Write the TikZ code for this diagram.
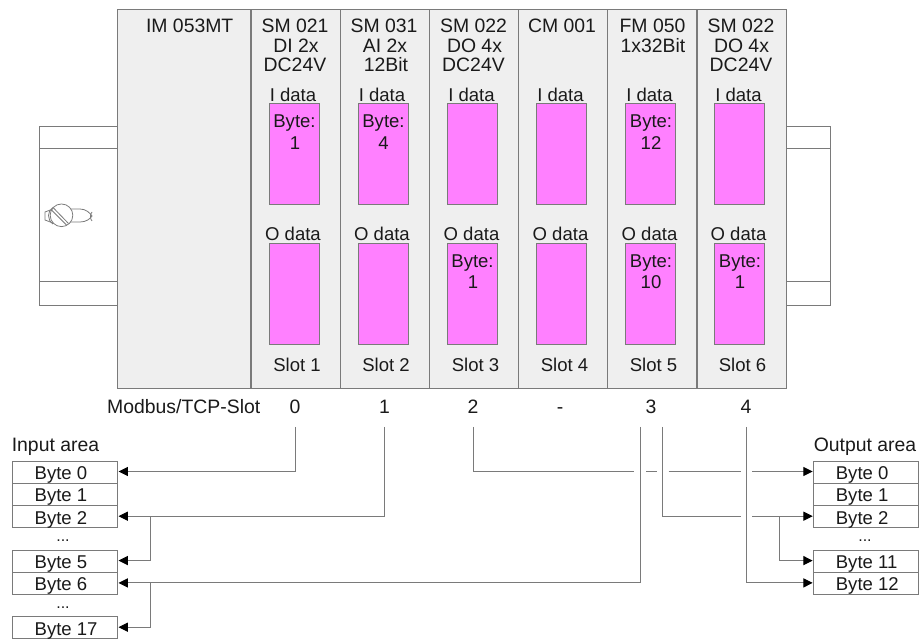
\documentclass[tikz,border=0pt]{standalone}
\usepackage{fontspec}
\setmainfont{Liberation Sans}
\usetikzlibrary{arrows.meta}
\definecolor{edge}{HTML}{7A7A7A}
\definecolor{panel}{HTML}{EFEFEF}
\definecolor{pink}{HTML}{FF80FF}
\definecolor{ink}{HTML}{1A1A1A}
\newcommand{\bigfont}{\fontsize{14.55}{14.6}\selectfont}
\newcommand{\smallfont}{\fontsize{13.9}{15.6}\selectfont}
\newcommand{\bt}[1]{\makebox[79.1pt][l]{\hspace{17pt}#1}}
\tikzset{
  x=0.75pt,y=-0.75pt,
  line/.style={draw=edge,line width=0.75pt},
  panelbox/.style={line,fill=panel,inner sep=0pt,anchor=north west},
  railbox/.style={line,fill=white,inner sep=0pt,anchor=north west},
  databox/.style={line,fill=pink,inner sep=0pt,anchor=north west,minimum width=37.9pt,minimum height=75.4pt},
  bytebox/.style={line,fill=white,inner sep=0pt,anchor=north west,minimum width=79.1pt,minimum height=16.7pt,text height=14pt,text depth=2.7pt,font=\smallfont,text=ink},
  big/.style={anchor=base,inner sep=0pt,font=\bigfont,text=ink},
  small/.style={anchor=base,inner sep=0pt,font=\smallfont,text=ink},
  dots/.style={anchor=base,inner sep=0pt,font=\fontsize{12}{12}\selectfont,text=ink,text height=1.5pt,text depth=0pt},
  wire/.style={line},
  arrowwire/.style={line,-{Triangle[length=7pt,width=6.8pt,color=black]}},
}
\begin{document}
\begin{tikzpicture}
\useasboundingbox (0,0) rectangle (921,641);
% rails
\node[railbox,minimum width=58.5pt,minimum height=133.9pt] (railL) at (39,126) {};
\node[railbox,minimum width=33pt,minimum height=133.9pt] (railR) at (786,126) {};
\draw[line] (39,148.5) -- (117,148.5) (39,282) -- (117,282);
\draw[line] (786,148.5) -- (830,148.5) (786,282) -- (830,282);
% screw
\draw[line,line width=0.6pt] (53,209) -- (45,212) -- (45,220) -- (53,223);
\draw[line,line width=0.6pt] (53,207.5) .. controls (47,211) and (47,220) .. (53,224);
\draw[line,line width=0.6pt] (66,209) -- (80,209) .. controls (86,209) and (90,213) .. (92,216) .. controls (90,219) and (86,222) .. (80,222) -- (66,222);
\draw[line,line width=0.6pt] (92,212) .. controls (90,214) and (90,219) .. (92,221);
\node[line,line width=0.6pt,fill=white,circle,inner sep=0pt,minimum size=17pt] (screw) at (61.5,215.3) {};
\draw[line,line width=0.6pt] (53.5,208) -- (68.5,223.5) (51.5,210) -- (66.5,225);
% rack
\node[panelbox,minimum width=100.1pt,minimum height=283.9pt] (im) at (117,9.5) {};
\foreach \n/\l in {1/250.5,2/339.5,3/429,4/518,5/607,6/696.5}{
  \node[panelbox,minimum width=66.9pt,minimum height=283.9pt] (mod\n) at (\l,9.5) {};
}
\node[big] (imt) at (189.7,32.3) {IM 053MT};
% module headings
\node[big] at (295,32.7) (h1a) {SM 021};
\node[big] at (296,52.3) (h1b) {DI 2x};
\node[big] at (295,72) (h1c) {DC24V};
\node[big] at (384,32.7) (h2a) {SM 031};
\node[big] at (385,52.3) (h2b) {AI 2x};
\node[big] at (386,72) (h2c) {12Bit};
\node[big] at (473.5,32.7) (h3a) {SM 022};
\node[big] at (474.5,52.3) (h3b) {DO 4x};
\node[big] at (473.5,72) (h3c) {DC24V};
\node[big] at (562,32.7) (h4a) {CM 001};
\node[big] at (652.5,32.7) (h5a) {FM 050};
\node[big] at (653,52.3) (h5b) {1x32Bit};
\node[big] at (741,32.7) (h6a) {SM 022};
\node[big] at (741.5,52.3) (h6b) {DO 4x};
\node[big] at (741,72) (h6c) {DC24V};
% data boxes
\foreach \n/\l/\c/\s in {1/268.5/293/Slot 1,2/357.5/382/Slot 2,3/446.5/471.5/Slot 3,4/535.7/560.5/Slot 4,5/624.7/649.5/Slot 5,6/713.7/738.5/Slot 6}{
  \node[databox] (i\n) at (\l,103.5) {};
  \node[databox] (o\n) at (\l,243) {};
  \node[small] (il\n) at (\c,101.7) {I data};
  \node[small] (ol\n) at (\c,241) {O data};
  \node[small] (sl\n) at (\c+4,372) {\s};
}
\node[small] (b1a) at (294.5,128) {Byte:};
\node[small] (b1b) at (295,149.3) {1};
\node[small] (b2a) at (383.5,128) {Byte:};
\node[small] (b2b) at (383.5,149.3) {4};
\node[small] (b5a) at (651,128) {Byte:};
\node[small] (b5b) at (651,149.3) {12};
\node[small] (b3a) at (472.5,267.5) {Byte:};
\node[small] (b3b) at (473,288.3) {1};
\node[small] (b6a) at (740,267.5) {Byte:};
\node[small] (b6b) at (740,288.3) {1};
\node[small] (b7a) at (651,267.5) {Byte:};
\node[small] (b7b) at (651,288.3) {10};
% slot numbers
\node[big] (mb) at (183.7,413.3) {Modbus/TCP-Slot};
\node[big] (m0) at (295,413.3) {0};
\node[big] (m1) at (384.5,413.3) {1};
\node[big] (m2) at (473,413.3) {2};
\node[big] (mx) at (560,413.3) {-};
\node[big] (m3) at (651,413.3) {3};
\node[big] (m4) at (746,413.3) {4};
% areas
\node[big] (ia) at (55.5,451.7) {Input area};
\node[big] (oa) at (865,451.7) {Output area};
\foreach \n/\y/\t in {0/460.5/Byte 0,1/482.8/Byte 1,2/505.1/Byte 2,5/549.5/Byte 5,6/571.8/Byte 6,17/616/Byte 17}{
  \node[bytebox] (ib\n) at (11.5,\y) {\bt{\t}};
}
\foreach \n/\y/\t in {0/460.5/Byte 0,1/482.8/Byte 1,2/505.1/Byte 2,11/549.5/Byte 11,12/571.8/Byte 12}{
  \node[bytebox] (ob\n) at (812.7,\y) {\bt{\t}};
}
\node[dots] (d1) at (63,541) {...};
\node[dots] (d2) at (63,608) {...};
\node[dots] (d3) at (865,541) {...};
% connector anchors
\coordinate (s0) at (295.5,427);
\coordinate (s1) at (384.5,427);
\coordinate (s2) at (473.5,427);
\coordinate (s3a) at (640.5,427);
\coordinate (s3b) at (662.5,427);
\coordinate (s4) at (746.5,427);
\coordinate (ti0) at (118.5,471.5);
\coordinate (ti2) at (118.5,516.2);
\coordinate (ti5) at (118.5,560.6);
\coordinate (ti6) at (118.5,582.9);
\coordinate (ti17) at (118.5,627.2);
\coordinate (to0) at (812.7,471.5);
\coordinate (to2) at (812.7,516.2);
\coordinate (to11) at (812.7,560.6);
\coordinate (to12) at (812.7,582.9);
\coordinate (j2) at (150.5,516.2);
\coordinate (j6) at (150.5,582.9);
\coordinate (jo) at (779.5,516.2);
% left connectors
\draw[arrowwire] (s0) |- (ti0);
\draw[arrowwire] (s1) |- (ti2);
\draw[arrowwire] (j2) |- (ti5);
\draw[arrowwire] (s3a) |- (ti6);
\draw[arrowwire] (j6) |- (ti17);
% right connectors, broken where they pass the verticals
\coordinate (g1) at (634.3,471.5);
\coordinate (g2) at (646,471.5);
\coordinate (g3) at (656.7,471.5);
\coordinate (g4) at (668.7,471.5);
\coordinate (g5) at (740.7,471.5);
\coordinate (g6) at (752,471.5);
\coordinate (g7) at (740.7,516.2);
\coordinate (g8) at (752,516.2);
\draw[wire] (s2) |- (g1);
\draw[wire] (g2) -- (g3);
\draw[wire] (g4) -- (g5);
\draw[arrowwire] (g6) -- (to0);
\draw[wire] (s3b) |- (g7);
\draw[arrowwire] (g8) -- (to2);
\draw[arrowwire] (jo) |- (to11);
\draw[arrowwire] (s4) |- (to12);
\end{tikzpicture}
\end{document}
